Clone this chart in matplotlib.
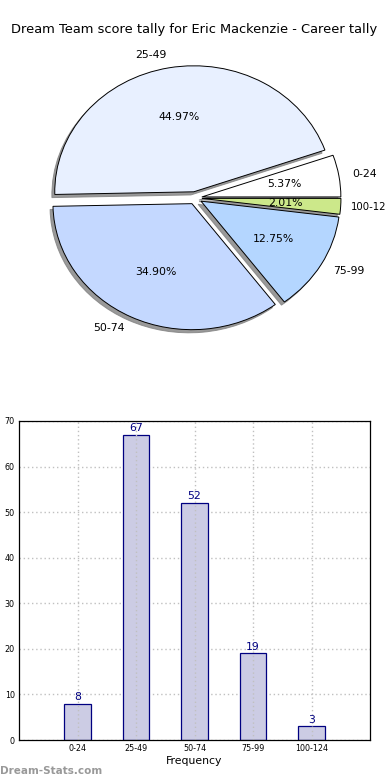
import matplotlib
matplotlib.use("Agg")
import matplotlib.pyplot as plt

categories = ["0-24", "25-49", "50-74", "75-99", "100-124"]
pie_labels = ["0-24", "25-49", "50-74", "75-99", "100-12"]
values = [8, 67, 52, 19, 3]
pie_colors = ["#ffffff", "#e8f0ff", "#c4d8ff", "#b4d6ff", "#cce88a"]
title = "Dream Team score tally for Eric Mackenzie - Career tally"

plt.rcParams['font.family'] = ['DejaVu Sans']
fig = plt.figure(figsize=(3.9, 7.8), dpi=100)

W, H = 390.0, 780.0
cx, cy = 195.0, 781.0 - 199.0
rx, ry = 139.0, 126.0
lim = 1.3
axp = fig.add_axes([(cx - lim * rx) / W, (cy - lim * ry) / H, 2 * lim * rx / W, 2 * lim * ry / H])
wedges, texts, autotexts = axp.pie(
    values, labels=pie_labels, colors=pie_colors, explode=[0.05] * len(values),
    autopct=lambda p: "%.2f%%" % p,
    shadow=dict(ox=-0.015, oy=-0.018, facecolor="#808080", edgecolor="#808080", alpha=0.8),
    startangle=0, counterclock=True,
    labeldistance=1.1, pctdistance=0.6,
    wedgeprops=dict(edgecolor="black", linewidth=0.7),
    textprops=dict(fontsize=7.8, color="black"))
texts[4].set_x(1.125)
texts[4].set_fontsize(7.3)
axp.set_aspect("auto")
axp.set_xlim(-lim, lim)
axp.set_ylim(-lim, lim)
axp.axis("off")

fig.text(0.5 - 1 / W, 1 - 30 / H, title, ha="center", va="center", fontsize=9.4)

axb = fig.add_axes([19 / W, 40 / H, 351 / W, 319 / H])
x = list(range(1, len(categories) + 1))
axb.bar(x, values, width=0.45, color="#ccccE4", edgecolor="#000080",
        linewidth=0.9, zorder=2)
for xi, v in zip(x, values):
    axb.text(xi, v + 0.4, str(v), ha="center", va="bottom", color="#000080", fontsize=7.8)
axb.set_xlim(0, 6)
axb.set_ylim(0, 70)
axb.set_xticks(x)
axb.set_xticklabels(categories)
axb.set_yticks(range(0, 71, 10))
axb.tick_params(labelsize=5.8, length=0, pad=3)
axb.set_axisbelow(True)
axb.grid(True, linestyle=(0, (1, 2)), color="#c0c0c0", linewidth=1.0)
axb.xaxis.set_zorder(2.5)
axb.set_xlabel("Frequency", fontsize=7.8, labelpad=2)
for s in axb.spines.values():
    s.set_linewidth(0.9)
    s.set_zorder(3)

fig.text(0 / W, 1 - 771 / H, "Dream-Stats.com", ha="left", va="center",
         fontsize=7.5, color="#999999", fontweight="bold")

fig.savefig("out.png", dpi=100)
